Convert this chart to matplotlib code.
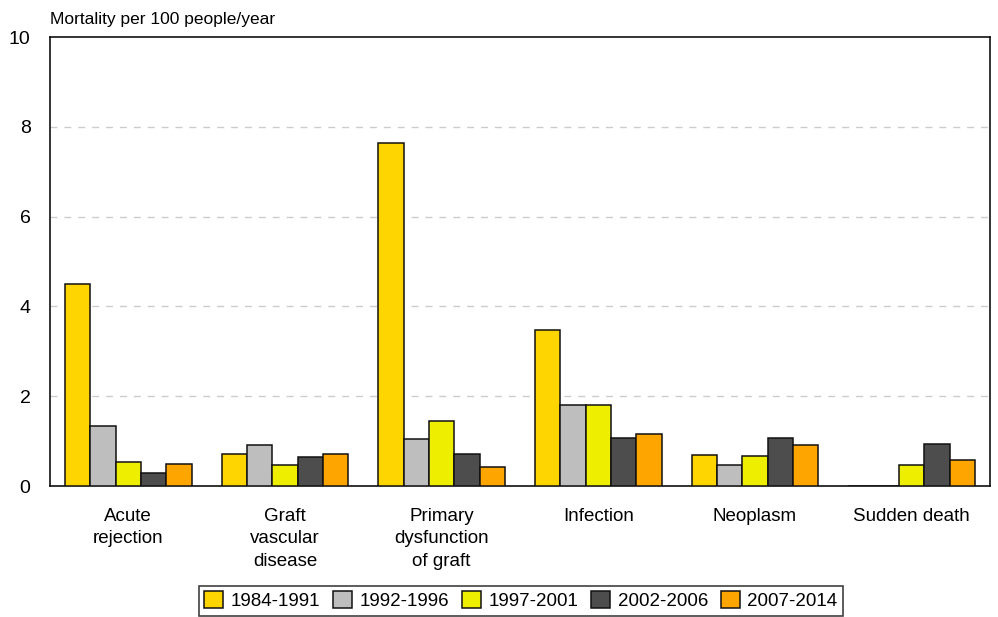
import numpy as np
import matplotlib
matplotlib.use("Agg")
import matplotlib.pyplot as plt

plt.rcParams['font.family'] = ['Liberation Sans Narrow', 'Liberation Sans', 'DejaVu Sans']

# Dados
categorias = ["Acute\nrejection", "Graft\nvascular\ndisease", "Primary\ndysfunction\nof graft",
              "Infection", "Neoplasm", "Sudden death"]
periodos = ["1984-1991", "1992-1996", "1997-2001", "2002-2006", "2007-2014"]
v_1984_1991 = [4.50, 0.71, 7.64, 3.47, 0.70, 0.00]
v_1992_1996 = [1.34, 0.91, 1.04, 1.80, 0.46, 0.00]
v_1997_2001 = [0.54, 0.47, 1.45, 1.80, 0.67, 0.47]
v_2002_2006 = [0.28, 0.64, 0.71, 1.07, 1.07, 0.94]
v_2007_2014 = [0.48, 0.71, 0.43, 1.16, 0.92, 0.59]
series = [v_1984_1991, v_1992_1996, v_1997_2001, v_2002_2006, v_2007_2014]
cores = ["#FFD500", "#BEBEBE", "#EEEE00", "#4D4D4D", "#FFA500"]

fig = plt.figure(figsize=(9.98, 6.17), dpi=100)
ax = fig.add_axes([0.0501, 0.2123, 0.9419, 0.7277])

x = np.arange(len(categorias))
largura = 0.162
for i, (vals, cor, nome) in enumerate(zip(series, cores, periodos)):
    ax.bar(x + (i - 2) * largura, vals, largura, color=cor, edgecolor="#111111",
           linewidth=1.1, label=nome, zorder=3)

ax.set_xlim(-0.5, len(categorias) - 0.5)
ax.set_ylim(0, 10)
ax.set_yticks([0, 2, 4, 6, 8, 10])
ax.set_yticklabels(["0", "2", "4", "6", "8", "10"], fontsize=14)
ax.set_xticks(x)
ax.set_xticklabels(categorias, fontsize=13.5, linespacing=1.4)
ax.tick_params(axis="both", length=0)
ax.tick_params(axis="x", pad=16)
ax.tick_params(axis="y", pad=14)

for y in [2, 4, 6, 8]:
    ax.axhline(y, color="#CCCCCC", linestyle=(0, (5, 5)), linewidth=1, zorder=1)

for s in ax.spines.values():
    s.set_color("#111111")
    s.set_linewidth(1.2)

fig.text(0.0501, 0.968, "Mortality per 100 people/year", fontsize=12.5, ha="left", va="center")

leg = fig.legend(loc="upper center", bbox_to_anchor=(0.522, 0.051), ncol=5, fontsize=13.5,
                 frameon=True, fancybox=False, edgecolor="#111111", handlelength=1.0,
                 handleheight=1.0, columnspacing=0.7, handletextpad=0.4, borderpad=0.3,
                 borderaxespad=0)
leg.get_frame().set_linewidth(1.2)

fig.savefig("out.png", dpi=100)
